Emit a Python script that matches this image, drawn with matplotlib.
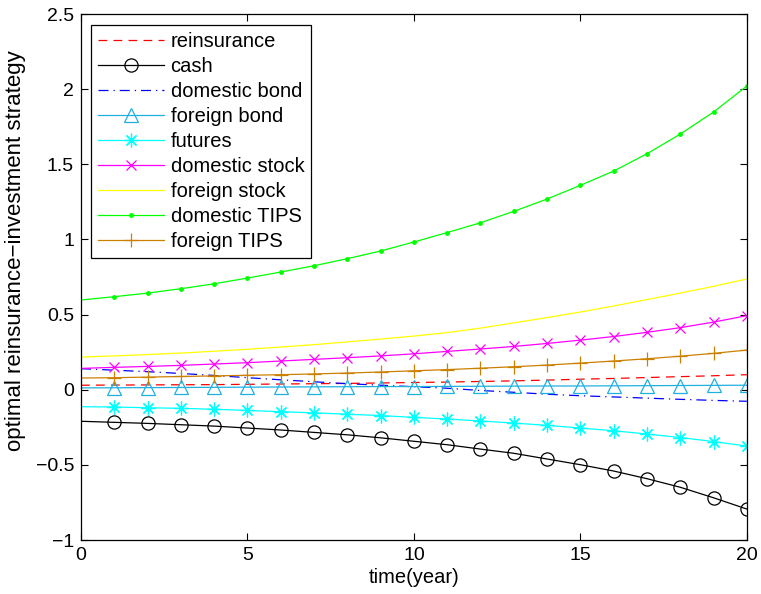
import numpy as np
import matplotlib
matplotlib.use("Agg")
import matplotlib.pyplot as plt

plt.rcParams['font.family'] = ['Liberation Sans', 'DejaVu Sans']

years = list(range(0, 21))

reinsurance = [0.030, 0.031, 0.032, 0.033, 0.034, 0.036, 0.038, 0.040, 0.042, 0.045,
               0.048, 0.051, 0.055, 0.059, 0.064, 0.070, 0.075, 0.081, 0.087, 0.093, 0.100]
cash = [-0.210, -0.217, -0.224, -0.233, -0.242, -0.255, -0.268, -0.284, -0.300, -0.320,
        -0.343, -0.366, -0.395, -0.423, -0.461, -0.499, -0.541, -0.592, -0.649, -0.719, -0.794]
domestic_bond = [0.140, 0.130, 0.120, 0.108, 0.095, 0.080, 0.066, 0.053, 0.040, 0.030,
                 0.020, 0.010, -0.005, -0.017, -0.030, -0.040, -0.048, -0.056, -0.064, -0.071, -0.077]
foreign_bond = [0.012, 0.013, 0.014, 0.015, 0.016, 0.017, 0.018, 0.019, 0.020, 0.021,
                0.021, 0.022, 0.023, 0.024, 0.025, 0.025, 0.026, 0.027, 0.028, 0.029, 0.030]
futures = [-0.113, -0.115, -0.120, -0.124, -0.130, -0.138, -0.146, -0.154, -0.163, -0.172,
           -0.184, -0.195, -0.208, -0.222, -0.237, -0.255, -0.273, -0.295, -0.318, -0.345, -0.375]
domestic_stock = [0.142, 0.149, 0.155, 0.162, 0.171, 0.180, 0.191, 0.202, 0.213, 0.225,
                  0.239, 0.255, 0.271, 0.288, 0.308, 0.330, 0.354, 0.382, 0.413, 0.450, 0.493]
foreign_stock = [0.217, 0.225, 0.234, 0.244, 0.256, 0.269, 0.284, 0.300, 0.318, 0.337,
                 0.357, 0.380, 0.410, 0.445, 0.480, 0.517, 0.557, 0.600, 0.643, 0.688, 0.737]
domestic_tips = [0.597, 0.619, 0.643, 0.672, 0.705, 0.743, 0.783, 0.825, 0.872, 0.923,
                 0.983, 1.046, 1.111, 1.187, 1.269, 1.360, 1.455, 1.570, 1.701, 1.848, 2.021]
foreign_tips = [0.078, 0.080, 0.084, 0.088, 0.092, 0.096, 0.100, 0.105, 0.111, 0.118,
                0.126, 0.134, 0.143, 0.153, 0.164, 0.177, 0.191, 0.206, 0.223, 0.242, 0.264]

fig = plt.figure(figsize=(7.61, 5.94), dpi=100)
ax = fig.add_axes([0.1064, 0.0909, 0.875, 0.8855])

mk = slice(1, None)
lw = 0.9
asterisk = (8, 2, 0)  # eight-armed asterisk marker
ax.plot(years, reinsurance, color='#ff0000', ls=(0, (7, 5)), lw=lw, label='reinsurance')
ax.plot(years, cash, color='black', lw=lw, marker='o', ms=9.5, mfc='none', mew=0.9,
        markevery=mk, label='cash')
ax.plot(years, domestic_bond, color='#0000ff', ls=(0, (8, 4, 1, 4)), lw=lw, label='domestic bond')
ax.plot(years, foreign_bond, color='#1fb0e0', lw=lw, marker='^', ms=10, mfc='none', mew=0.9,
        markevery=mk, label='foreign bond')
ax.plot(years, futures, color='#00ffff', lw=lw, marker=asterisk, ms=10, mew=0.9,
        markevery=mk, label='futures')
ax.plot(years, domestic_stock, color='#ff00ff', lw=lw, marker='x', ms=7, mew=0.9,
        markevery=mk, label='domestic stock')
ax.plot(years, foreign_stock, color='#ffff00', lw=lw, label='foreign stock')
ax.plot(years, domestic_tips, color='#00ff00', lw=lw, marker='.', ms=5,
        markevery=mk, label='domestic TIPS')
ax.plot(years, foreign_tips, color='#cc8000', lw=lw, marker='+', ms=10, mew=0.9,
        markevery=mk, label='foreign TIPS')

ax.set_xlim(0, 20)
ax.set_ylim(-1, 2.5)
ax.set_xticks([0, 5, 10, 15, 20])
ax.set_yticks([-1, -0.5, 0, 0.5, 1, 1.5, 2, 2.5])
ax.set_yticklabels(['\u22121', '\u22120.5', '0', '0.5', '1', '1.5', '2', '2.5'])
ax.tick_params(direction='in', top=True, right=True, labelsize=14, length=5, width=0.8, pad=5)
for s in ax.spines.values():
    s.set_linewidth(0.9)

ax.set_xlabel('time(year)', fontsize=14.5, labelpad=3)
ax.set_ylabel('optimal reinsurance\u2212investment strategy', fontsize=16)
ax.yaxis.set_label_coords(-0.082, 0.55)

leg = ax.legend(loc='upper left', bbox_to_anchor=(0.015, 0.979), fontsize=14.5,
                handlelength=3.3, handletextpad=0.3, labelspacing=0.3,
                borderpad=0.35, borderaxespad=0, fancybox=False, framealpha=1,
                edgecolor='black')
leg.get_frame().set_linewidth(0.9)

fig.savefig('out.png', dpi=100)
